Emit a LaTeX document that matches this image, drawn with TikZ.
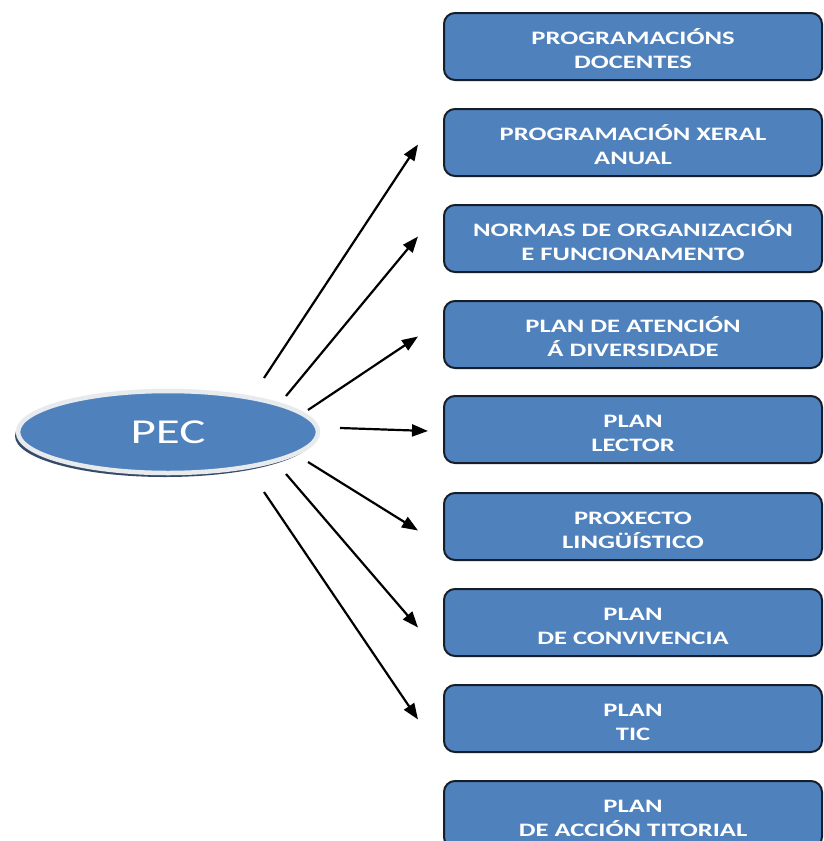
\documentclass[tikz,border=0pt]{standalone}
\usepackage{fontspec}
\setmainfont{Carlito}
\newfontfamily\boxfont[FakeStretch=1.4]{Carlito}
\usetikzlibrary{arrows.meta,shadows,shapes.geometric}
\definecolor{officeblue}{RGB}{79,129,189}
\definecolor{boxedge}{RGB}{22,30,44}
\definecolor{shadowc}{RGB}{55,75,105}
\definecolor{ringc}{RGB}{232,235,238}
\newcommand{\twolines}[2]{\raisebox{-9.5pt}[0pt][0pt]{\begin{tabular}{@{}c@{}}#1\\#2\end{tabular}}}
\tikzset{
  boxnode/.style={draw=boxedge, line width=2pt, fill=officeblue, rounded corners=11pt,
    minimum width=378pt, minimum height=67pt, inner sep=0pt,
    text=white, font=\boxfont\bfseries\fontsize{19}{23.5}\selectfont},
  pecnode/.style={ellipse, fill=officeblue, draw=ringc, line width=4.5pt,
    minimum width=300pt, minimum height=82pt, inner sep=0pt, text=white,
    font=\boxfont\fontsize{35}{40}\selectfont,
    drop shadow={shadow xshift=-3pt, shadow yshift=-4pt, fill=shadowc, opacity=1}},
  arr/.style={line width=2.2pt, -{Triangle[length=16pt,width=12pt]}}
}
\begin{document}
\begin{tikzpicture}[x=1pt,y=-1pt]
\useasboundingbox[fill=white] (0,0) rectangle (823,841);
\node[pecnode] (pec) at (168,432) {PEC};
\node[boxnode] (b1) at (633,46.5) {\twolines{PROGRAMACIÓNS}{DOCENTES}};
\node[boxnode] (b2) at (633,142.5) {\twolines{PROGRAMACIÓN XERAL}{ANUAL}};
\node[boxnode] (b3) at (633,238.5) {\twolines{NORMAS DE ORGANIZACIÓN}{E FUNCIONAMENTO}};
\node[boxnode] (b4) at (633,334.5) {\twolines{PLAN DE ATENCIÓN}{Á DIVERSIDADE}};
\node[boxnode] (b5) at (633,429.5) {\twolines{PLAN}{LECTOR}};
\node[boxnode] (b6) at (633,526.5) {\twolines{PROXECTO}{LINGÜÍSTICO}};
\node[boxnode] (b7) at (633,622.5) {\twolines{PLAN}{DE CONVIVENCIA}};
\node[boxnode] (b8) at (633,718.5) {\twolines{PLAN}{TIC}};
\node[boxnode] (b9) at (633,814.5) {\twolines{PLAN}{DE ACCIÓN TITORIAL}};
\coordinate (s2) at (264,378);
\coordinate (s3) at (286,396);
\coordinate (s4) at (308,410);
\coordinate (s5) at (340,428);
\coordinate (s6) at (308,462);
\coordinate (s7) at (286,474);
\coordinate (s8) at (264,492);
\draw[arr] (s2) -- ([xshift=-25pt,yshift=-2pt]b2.west);
\draw[arr] (s3) -- ([xshift=-25pt,yshift=2pt]b3.west);
\draw[arr] (s4) -- ([xshift=-25pt,yshift=-2pt]b4.west);
\draw[arr] (s5) -- ([xshift=-15pt,yshift=-1.5pt]b5.west);
\draw[arr] (s6) -- ([xshift=-25pt,yshift=-4pt]b6.west);
\draw[arr] (s7) -- ([xshift=-25pt,yshift=-5pt]b7.west);
\draw[arr] (s8) -- ([xshift=-25pt,yshift=-1pt]b8.west);
\end{tikzpicture}
\end{document}
